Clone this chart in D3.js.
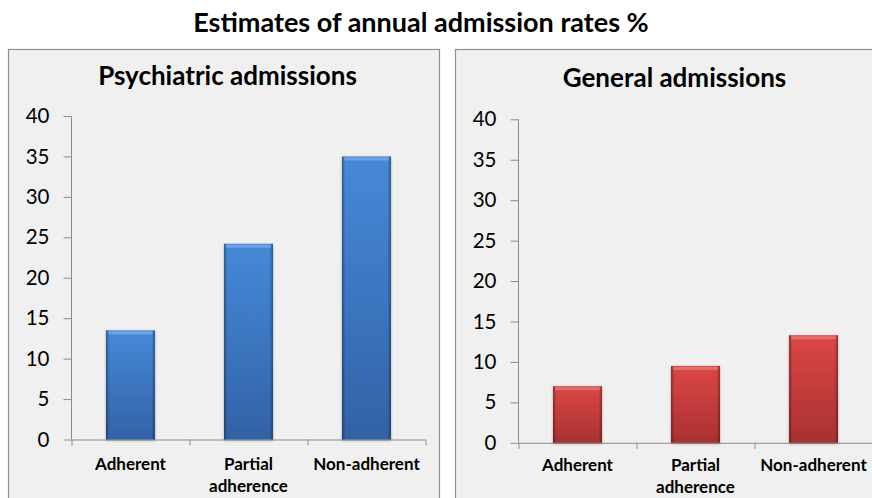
<!DOCTYPE html>
<html>
<head>
<meta charset="utf-8">
<script src="https://cdn.jsdelivr.net/npm/d3@7"></script>
<style>
  html, body { margin: 0; padding: 0; background: #fff; }
  svg { display: block; font-family: Lato, "Open Sans", sans-serif; }
</style>
</head>
<body>
<div id="chart"></div>
<script>
// ===== data =====
const mainTitle = "Estimates of annual admission rates %";
const categories = ["Adherent", "Partial adherence", "Non-adherent"];
const categoryLines = [["Adherent"], ["Partial", "adherence"], ["Non-adherent"]];
const panelTitles = ["Psychiatric admissions", "General admissions"];
const psychiatricRates = [13.5, 24.2, 35];
const generalRates = [7, 9.5, 13.3];
const yTicks = [0, 5, 10, 15, 20, 25, 30, 35, 40];

(function () {
    const W = 872, H = 498;
    const PANEL_W = 431, PANEL_H = 470;
    const AXIS_LEFT = 63.5;
    const PLOT_W = 354;

    const svg = d3.select('#chart').append('svg')
        .attr('width', W).attr('height', H);

    svg.append('rect').attr('width', W).attr('height', H).attr('fill', '#fff');

    const defs = svg.append('defs');

    // vertical gradient + edge shading for the glossy Excel bars
    function barGradients(id, top, bottom) {
        const v = defs.append('linearGradient').attr('id', id + '-v')
            .attr('x1', 0).attr('y1', 0).attr('x2', 0).attr('y2', 1);
        v.append('stop').attr('offset', '0%').attr('stop-color', top);
        v.append('stop').attr('offset', '100%').attr('stop-color', bottom);

        const h = defs.append('linearGradient').attr('id', id + '-h')
            .attr('x1', 0).attr('y1', 0).attr('x2', 1).attr('y2', 0);
        h.append('stop').attr('offset', '0%').attr('stop-color', '#000').attr('stop-opacity', 0.35);
        h.append('stop').attr('offset', '7%').attr('stop-color', '#000').attr('stop-opacity', 0.0);
        h.append('stop').attr('offset', '93%').attr('stop-color', '#000').attr('stop-opacity', 0.0);
        h.append('stop').attr('offset', '100%').attr('stop-color', '#000').attr('stop-opacity', 0.35);
    }
    barGradients('blue', '#4689d8', '#3262a6');
    barGradients('red', '#dc4646', '#a93131');

    const shadow = defs.append('filter').attr('id', 'shadow')
        .attr('x', '-20%').attr('y', '-5%').attr('width', '140%').attr('height', '110%');
    shadow.append('feGaussianBlur').attr('in', 'SourceAlpha').attr('stdDeviation', 1.5);
    shadow.append('feOffset').attr('dx', 0).attr('dy', 1).attr('result', 'b');
    shadow.append('feComponentTransfer').append('feFuncA').attr('type', 'linear').attr('slope', 0.3);
    const merge = shadow.append('feMerge');
    merge.append('feMergeNode');
    merge.append('feMergeNode').attr('in', 'SourceGraphic');

    // main title
    svg.append('text')
        .attr('x', 421).attr('y', 32)
        .attr('text-anchor', 'middle')
        .style('font-size', '27px').style('font-weight', 'bold')
        .text(mainTitle);

    const panels = [
        { x: 8, y: 49, dy: 0, title: panelTitles[0], values: psychiatricRates, grad: 'blue' },
        { x: 455, y: 49, dy: 3.3, title: panelTitles[1], values: generalRates, grad: 'red' }
    ];

    panels.forEach(p => drawPanel(p));

    function drawPanel(p) {
        const g = svg.append('g').attr('transform', `translate(${p.x},${p.y})`);

        g.append('rect')
            .attr('x', 0.5).attr('y', 0.5)
            .attr('width', PANEL_W).attr('height', PANEL_H)
            .attr('fill', '#f0f0f0').attr('stroke', '#8f8f8f').attr('stroke-width', 1.2);

        g.append('text')
            .attr('x', PANEL_W / 2 + 4).attr('y', 36 + p.dy * 0.5)
            .attr('text-anchor', 'middle')
            .style('font-size', '26px').style('font-weight', 'bold')
            .text(p.title);

        const plot = g.append('g').attr('transform', `translate(${AXIS_LEFT},${p.dy})`);

        const y = d3.scaleLinear().domain([0, 40]).range([390.5, 67]);
        const xTick = d3.scaleBand().domain(categories).range([0, PLOT_W]).padding(0);
        const xBar = d3.scaleBand().domain(categories).range([0, PLOT_W])
            .paddingInner(0.585).paddingOuter(0.2925);

        // y axis
        const yAxis = d3.axisLeft(y).tickValues(yTicks).tickSize(8).tickPadding(14);
        const ya = plot.append('g').call(yAxis);
        ya.select('.domain').attr('stroke', '#8c8c8c').attr('d', `M0,${y(40)}V${y(0)}`);
        ya.selectAll('.tick line').attr('stroke', '#8c8c8c');
        ya.selectAll('.tick text')
            .style('font-size', '20.5px').style('font-family', 'Lato, "Open Sans", sans-serif')
            .attr('fill', '#000');

        // x axis line + boundary ticks
        plot.append('line')
            .attr('x1', 0).attr('x2', PLOT_W)
            .attr('y1', y(0) + 0.5).attr('y2', y(0) + 0.5)
            .attr('stroke', '#8c8c8c');
        const bounds = categories.map(c => xTick(c)).concat([PLOT_W]);
        plot.selectAll('line.xt').data(bounds).join('line')
            .attr('class', 'xt')
            .attr('x1', d => d + 0.5).attr('x2', d => d + 0.5)
            .attr('y1', y(0)).attr('y2', y(0) + 6)
            .attr('stroke', '#8c8c8c');

        // bars
        const data = categories.map((c, i) => ({ c, v: p.values[i] }));
        const bars = plot.selectAll('g.bar').data(data).join('g').attr('class', 'bar');
        bars.append('rect')
            .attr('x', d => xBar(d.c)).attr('y', d => y(d.v))
            .attr('width', xBar.bandwidth()).attr('height', d => y(0) - y(d.v))
            .attr('fill', `url(#${p.grad}-v)`)
            .attr('filter', 'url(#shadow)');
        bars.append('rect')
            .attr('x', d => xBar(d.c)).attr('y', d => y(d.v))
            .attr('width', xBar.bandwidth()).attr('height', d => y(0) - y(d.v))
            .attr('fill', `url(#${p.grad}-h)`);
        // top highlight
        bars.append('rect')
            .attr('x', d => xBar(d.c) + 2).attr('y', d => y(d.v) + 1)
            .attr('width', xBar.bandwidth() - 4).attr('height', 3)
            .attr('fill', '#fff').attr('opacity', 0.22);

        // category labels (kept at the same height in both panels so nothing is clipped)
        const labelY = 421 - p.dy;
        const labels = plot.selectAll('text.cat').data(categories).join('text')
            .attr('class', 'cat')
            .attr('text-anchor', 'middle')
            .attr('x', d => xTick(d) + xTick.bandwidth() / 2)
            .attr('y', labelY + p.dy * 0.4)
            .style('font-size', '17px').style('font-weight', 'bold');
        labels.each(function (d, i) {
            d3.select(this).selectAll('tspan').data(categoryLines[i]).join('tspan')
                .attr('x', xTick(d) + xTick.bandwidth() / 2)
                .attr('dy', (t, j) => j === 0 ? 0 : 21.5)
                .text(t => t);
        });
    }
})();
</script>
</body>
</html>
